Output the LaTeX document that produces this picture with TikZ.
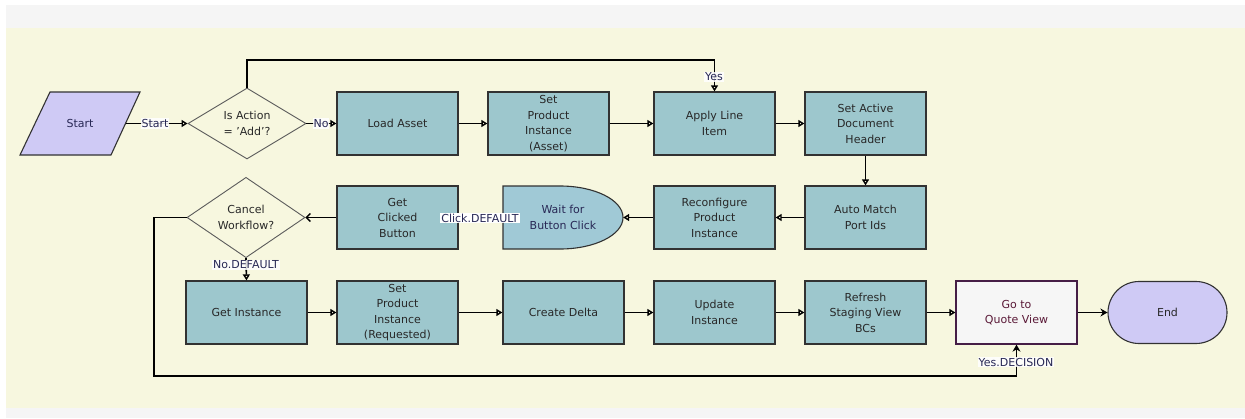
\documentclass[tikz,border=0pt]{standalone}
\usepackage{fontspec}
\setmainfont{DejaVu Sans}
\usetikzlibrary{shapes.geometric,arrows.meta}
\definecolor{bgbeige}{RGB}{247,247,223}
\definecolor{stripgray}{RGB}{245,245,245}
\definecolor{boxfill}{RGB}{157,199,205}
\definecolor{waitfill}{RGB}{160,201,214}
\definecolor{lavender}{RGB}{207,202,245}
\definecolor{gotofill}{RGB}{246,246,246}
\definecolor{gotoborder}{RGB}{70,30,70}
\definecolor{txtdark}{RGB}{40,40,40}
\definecolor{lbltxt}{RGB}{40,40,85}
\definecolor{bordergray}{RGB}{50,50,50}
\tikzset{
  every node/.style={font=\fontsize{11}{15.5}\selectfont, text=txtdark, align=center},
  stepbox/.style={rectangle, draw=bordergray, line width=1.3pt, fill=boxfill, minimum width=121pt, minimum height=63pt, inner sep=0pt},
  decide/.style={diamond, draw=bordergray!80, line width=0.9pt, fill=bgbeige, minimum width=118pt, minimum height=63pt, inner sep=0pt},
  conn/.style={line width=1.6pt, draw=black},
  oarr/.style={conn, -{Triangle[open,length=6pt,width=7pt,line width=1.4pt]}},
  barr/.style={conn, -{Straight Barb[length=4pt,width=8pt,line width=1.4pt]}},
  sarr/.style={conn, -{Stealth[length=7pt,width=8pt]}},
  lbl/.style={fill=white, fill opacity=0.85, text opacity=1, text=lbltxt, inner sep=1pt},
}
\begin{document}
\begin{tikzpicture}[x=1pt,y=-1pt]
\useasboundingbox (0,0) rectangle (1245,418);
\fill[white] (0,0) rectangle (1245,418);
\fill[stripgray] (6,5) rectangle (1245,28);
\fill[bgbeige] (6,28) rectangle (1245,408);
\fill[stripgray] (6,408) rectangle (1245,418);

% Start parallelogram
\fill[lavender, draw=bordergray, line width=1.1pt] (20,155) -- (50,92) -- (140,92) -- (111,155) -- cycle;
\node[text=lbltxt] (start) at (80,123.5) {Start};
\coordinate (startR) at (125.5,123.5);

% Row 1
\node[decide] (isadd) at (247,123.5) {Is Action\\= 'Add'?};
\node[stepbox] (load) at (397.5,123.5) {Load Asset};
\node[stepbox] (setpa) at (548.5,123.5) {Set\\Product\\Instance\\(Asset)};
\node[stepbox] (apply) at (714.5,123.5) {Apply Line\\Item};
\node[stepbox] (active) at (865.5,123.5) {Set Active\\Document\\Header};

% Row 2
\node[decide] (cancel) at (246,217.5) {Cancel\\Workflow?};
\node[stepbox] (clicked) at (397.5,217.5) {Get\\Clicked\\Button};
\fill[waitfill, draw=bordergray, line width=1.1pt] (503,186) -- (560,186) arc[start angle=90, end angle=-90, x radius=63pt, y radius=31.5pt] -- (503,249) -- cycle;
\node[minimum width=120pt, minimum height=63pt, inner sep=0pt, text=lbltxt] (wait) at (563,217.5) {Wait for\\Button Click};
\node[stepbox] (reconf) at (714.5,217.5) {Reconfigure\\Product\\Instance};
\node[stepbox] (automatch) at (865.5,217.5) {Auto Match\\Port Ids};

% Row 3
\node[stepbox] (getinst) at (246.5,312.5) {Get Instance};
\node[stepbox] (setpr) at (397.5,312.5) {Set\\Product\\Instance\\(Requested)};
\node[stepbox] (delta) at (563.5,312.5) {Create Delta};
\node[stepbox] (update) at (714.5,312.5) {Update\\Instance};
\node[stepbox] (refresh) at (865.5,312.5) {Refresh\\Staging View\\BCs};
\node[rectangle, draw=gotoborder, line width=1.3pt, fill=gotofill, minimum width=121pt, minimum height=63pt, inner sep=0pt, text={rgb,255:red,90;green,25;blue,55}] (goto) at (1016.5,312.5) {Go to\\Quote View};
\node[rectangle, rounded corners=31pt, draw=bordergray, line width=1.1pt, fill=lavender, minimum width=119pt, minimum height=62pt, inner sep=0pt] (endn) at (1167.5,312.5) {End};

\coordinate (ytop) at (0,60);
\coordinate (lb) at (154,376);

% Connectors
\draw[oarr] (startR) -- (isadd.west);
\draw[oarr] (isadd.east) -- (load.west);
\draw[oarr] (isadd.north) -- (isadd.north |- ytop) -| (apply.north);
\draw[oarr] (load.east) -- (setpa.west);
\draw[oarr] (setpa.east) -- (apply.west);
\draw[oarr] (apply.east) -- (active.west);
\draw[oarr] (active.south) -- (automatch.north);
\draw[oarr] (automatch.west) -- (reconf.east);
\draw[oarr] (reconf.west) -- (wait.east);
\draw[oarr] (wait.west) -- (clicked.east);
\draw[barr] (clicked.west) -- (cancel.east);
\draw[oarr] (cancel.south) -- (getinst.north);
\draw[sarr] (cancel.west) -| (lb) -| (goto.south);
\draw[oarr] (getinst.east) -- (setpr.west);
\draw[oarr] (setpr.east) -- (delta.west);
\draw[oarr] (delta.east) -- (update.west);
\draw[oarr] (update.east) -- (refresh.west);
\draw[oarr] (refresh.east) -- (goto.west);
\draw[sarr] (goto.east) -- (endn.west);

% Labels
\node[lbl] (lstart) at (155,123.5) {Start};
\node[lbl] (lno) at (321,123.5) {No};
\node[lbl] (lyes) at (714,77) {Yes};
\node[lbl, fill opacity=1] (lclick) at (480,218) {Click.DEFAULT};
\node[lbl] (lnodef) at (246,265) {No.DEFAULT};
\node[lbl] (lyesdec) at (1016,362) {Yes.DECISION};
\end{tikzpicture}
\end{document}
